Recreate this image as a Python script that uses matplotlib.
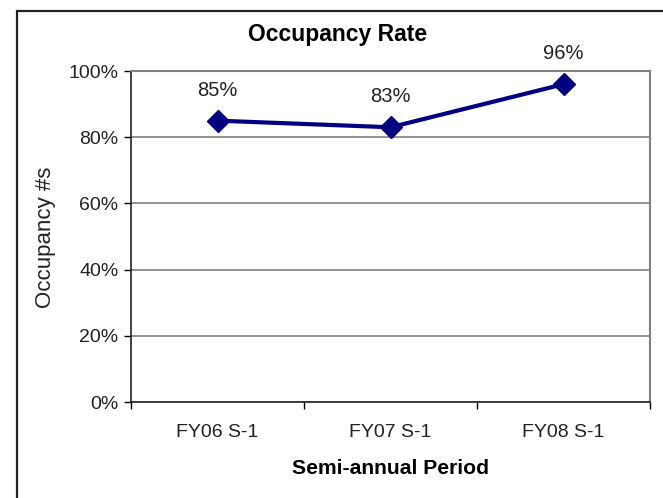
import matplotlib
matplotlib.use("Agg")
import matplotlib.pyplot as plt
from matplotlib.patches import Rectangle
from matplotlib.ticker import PercentFormatter

plt.rcParams['font.family'] = ['Liberation Sans', 'DejaVu Sans']

# data
periods = ['FY06 S-1', 'FY07 S-1', 'FY08 S-1']
occupancy = [85, 83, 96]
labels = ['85%', '83%', '96%']

W, H = 663, 498
fig = plt.figure(figsize=(W / 100, H / 100), dpi=100)

# outer chart border (right/bottom edges run off the picture)
fig.patches.append(Rectangle((17 / W, -0.1), 1.2, 1 - 11 / H + 0.1,
                             transform=fig.transFigure, fill=False,
                             edgecolor='#222222', linewidth=1.6))

ax = fig.add_axes([131 / W, 1 - 402 / H, (650 - 131) / W, (402 - 71) / H])

x = range(len(periods))
ax.plot(x, occupancy, color='#000080', linewidth=3, marker='D',
        markersize=11, zorder=3)
for xi, v, lab in zip(x, occupancy, labels):
    ax.annotate(lab, (xi, v), xytext=(0, 22), textcoords='offset points',
                ha='center', va='center', fontsize=14.5, color='#222222')

ax.set_xlim(-0.5, len(periods) - 0.5)
ax.set_ylim(0, 100)
ax.set_yticks([0, 20, 40, 60, 80, 100])
ax.yaxis.set_major_formatter(PercentFormatter(decimals=0))
ax.set_xticks(list(x))
ax.set_xticklabels(periods)
ax.set_xticks([-0.5, 0.5, 1.5, 2.5], minor=True)
ax.tick_params(axis='x', which='major', length=0, pad=16, labelsize=14,
               labelcolor='#222222')
ax.tick_params(axis='x', which='minor', length=5, direction='out', width=1)
ax.tick_params(axis='y', length=5, direction='out', width=1, labelsize=14,
               pad=4, labelcolor='#222222')

ax.grid(axis='y', color='#808080', linewidth=1.2)
ax.set_axisbelow(True)
for side in ['top', 'right']:
    ax.spines[side].set_color('#808080')
    ax.spines[side].set_linewidth(1.5)
for side in ['left', 'bottom']:
    ax.spines[side].set_color('#222222')
    ax.spines[side].set_linewidth(1.2)

fig.text(338 / W, 1 - 35 / H, 'Occupancy Rate', ha='center', va='center',
         fontsize=16.5, fontweight='bold')
fig.text(390 / W, 1 - 468 / H, 'Semi-annual Period', ha='center', va='center',
         fontsize=15.2, fontweight='bold')
fig.text(45 / W, 1 - 237 / H, 'Occupancy #s', ha='center', va='center',
         rotation=90, fontsize=16, color='#222222')

fig.savefig('out.png', dpi=100)
